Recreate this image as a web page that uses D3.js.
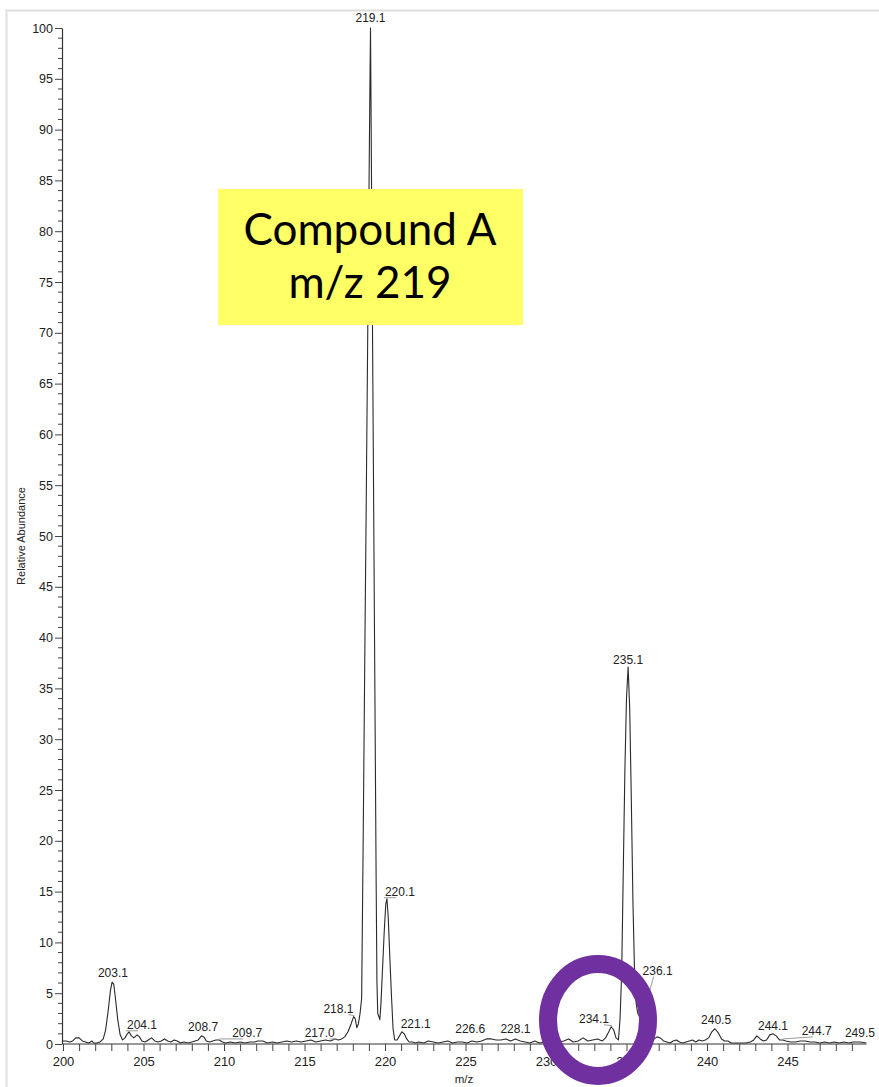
<!DOCTYPE html>
<html>
<head>
<meta charset="utf-8">
<script src="https://cdn.jsdelivr.net/npm/d3@7"></script>
<style>
  html, body { margin: 0; padding: 0; background: #ffffff; }
  svg { display: block; }
</style>
</head>
<body>
<svg id="chart" width="879" height="1087"></svg>
<script>
// ---------------- DATA ----------------
// profile spectrum: m/z values and relative abundance (%)
const mz = [
  200.0, 200.2, 200.4, 200.6, 200.8, 201.0, 201.2, 201.4, 201.6, 201.8, 201.9, 202.1, 202.3, 202.5,
  202.65, 202.8, 202.95, 203.05, 203.15, 203.25, 203.4, 203.55, 203.7, 203.85, 204.0, 204.1, 204.25,
  204.4, 204.6, 204.75, 204.9, 205.1, 205.3, 205.5, 205.7, 205.9, 206.1, 206.3, 206.5, 206.7, 206.9,
  207.1, 207.3, 207.5, 207.8, 208.0, 208.2, 208.4, 208.6, 208.75, 208.9, 209.1, 209.3, 209.5, 209.7,
  209.9, 210.1, 210.4, 210.7, 211.0, 211.3, 211.6, 211.9, 212.1, 212.4, 212.7, 213.0, 213.3, 213.6,
  213.9, 214.2, 214.5, 214.8, 215.1, 215.4, 215.7, 216.0, 216.3, 216.6, 216.9, 217.1, 217.3, 217.5,
  217.7, 217.9, 218.05, 218.15, 218.25, 218.35, 218.45, 218.55, 218.65, 218.75, 218.85, 218.95,
  219.05, 219.1, 219.15, 219.25, 219.35, 219.45, 219.5, 219.55, 219.68, 219.75, 219.85, 219.95,
  220.05, 220.12, 220.2, 220.3, 220.4, 220.5, 220.6, 220.75, 220.9, 221.05, 221.2, 221.35, 221.5,
  221.7, 221.9, 222.1, 222.4, 222.7, 223.0, 223.3, 223.6, 223.9, 224.2, 224.5, 224.8, 225.1, 225.4,
  225.7, 226.0, 226.3, 226.6, 226.9, 227.2, 227.5, 227.8, 228.1, 228.4, 228.7, 229.0, 229.3, 229.6,
  229.9, 230.2, 230.5, 230.8, 231.1, 231.4, 231.7, 232.0, 232.3, 232.6, 232.9, 233.2, 233.5, 233.7,
  233.9, 234.05, 234.2, 234.35, 234.5, 234.6, 234.7, 234.8, 234.9, 235.0, 235.1, 235.2, 235.3, 235.4,
  235.5, 235.6, 235.7, 235.85, 236.0, 236.15, 236.3, 236.5, 236.7, 236.9, 237.1, 237.3, 237.5, 237.7,
  237.9, 238.1, 238.3, 238.5, 238.7, 238.9, 239.1, 239.3, 239.5, 239.7, 239.9, 240.1, 240.3, 240.5,
  240.7, 240.9, 241.1, 241.3, 241.5, 241.8, 242.1, 242.4, 242.7, 242.9, 243.1, 243.3, 243.5, 243.7,
  243.9, 244.1, 244.3, 244.5, 244.7, 244.9, 245.2, 245.5, 245.8, 246.1, 246.4, 246.7, 247.0, 247.3,
  247.6, 247.9, 248.2, 248.5, 248.8, 249.1, 249.5, 249.9
];
const abundance = [
  0.3, 0.3, 0.2, 0.3, 0.6, 0.6, 0.3, 0.2, 0.1, 0.3, 0.1, 0.1, 0.2, 0.5,
  1.4, 3.2, 5.3, 6.1, 5.9, 4.6, 2.4, 0.9, 0.4, 0.6, 1.0, 1.2, 0.8,
  0.6, 0.9, 0.7, 0.3, 0.2, 0.4, 0.6, 0.3, 0.2, 0.3, 0.5, 0.3, 0.2, 0.4,
  0.3, 0.1, 0.2, 0.1, 0.2, 0.3, 0.4, 0.8, 0.7, 0.3, 0.2, 0.3, 0.4, 0.4,
  0.2, 0.1, 0.2, 0.1, 0.2, 0.1, 0.2, 0.2, 0.3, 0.3, 0.1, 0.2, 0.1, 0.2,
  0.3, 0.2, 0.3, 0.2, 0.3, 0.4, 0.2, 0.3, 0.4, 0.3, 0.5, 0.4, 0.5, 0.7,
  1.2, 2.0, 2.7, 2.5, 1.6, 2.0, 3.0, 4.5, 21, 39, 56, 74,
  92, 100, 88, 64, 40, 16, 6, 3.0, 2.4, 4.0, 7.5, 11,
  13.8, 14.3, 12.5, 8.5, 4.8, 1.5, 0.4, 0.4, 0.8, 1.2, 1.0, 0.5, 0.2,
  0.2, 0.1, 0.2, 0.1, 0.3, 0.2, 0.1, 0.2, 0.3, 0.1, 0.2, 0.2, 0.1, 0.3,
  0.2, 0.3, 0.5, 0.5, 0.4, 0.4, 0.5, 0.3, 0.5, 0.3, 0.2, 0.1, 0.3, 0.1,
  0.2, 0.1, 0.3, 0.2, 0.3, 0.5, 0.2, 0.3, 0.6, 0.3, 0.4, 0.5, 0.3, 0.6,
  1.2, 1.7, 1.4, 0.6, 0.4, 2.5, 7, 17, 27, 34, 37.1, 33, 24, 14,
  7, 4, 3.0, 2.6, 2.2, 1.2, 0.5, 0.3, 0.5, 0.7, 0.6, 0.3, 0.2, 0.1,
  0.3, 0.4, 0.2, 0.1, 0.2, 0.3, 0.4, 0.2, 0.4, 0.3, 0.4, 0.6, 1.2, 1.5,
  1.1, 0.5, 0.3, 0.3, 0.1, 0.1, 0.1, 0.1, 0.2, 0.4, 0.8, 0.5, 0.3, 0.4,
  0.9, 1.0, 0.8, 0.4, 0.4, 0.3, 0.2, 0.2, 0.3, 0.3, 0.2, 0.2, 0.1, 0.2,
  0.1, 0.2, 0.1, 0.2, 0.1, 0.2, 0.2, 0.1
];

// labelled peaks
const peakLabels = ["203.1", "204.1", "208.7", "209.7", "217.0", "218.1", "219.1", "220.1", "221.1",
                    "226.6", "228.1", "234.1", "235.1", "236.1", "240.5", "244.1", "244.7", "249.5"];
const peakMz = [203.1, 204.1, 208.7, 209.7, 217.0, 218.1, 219.1, 220.12, 221.1,
                226.6, 228.1, 234.1, 235.1, 236.0, 240.5, 244.1, 244.7, 249.5];
const peakAbundance = [6.1, 1.2, 0.8, 0.4, 0.4, 2.7, 100, 14.3, 1.2,
                       0.5, 0.5, 1.7, 37.1, 2.2, 1.5, 1.0, 0.4, 0.2];

// axis ticks
const xTickValues = [200, 205, 210, 215, 220, 225, 230, 235, 240, 245];
const yTickValues = [0, 5, 10, 15, 20, 25, 30, 35, 40, 45, 50, 55, 60, 65, 70, 75, 80, 85, 90, 95, 100];

// text
const xAxisTitle = "m/z";
const yAxisTitle = "Relative Abundance";
const calloutLines = ["Compound A", "m/z 219"];

// ---------------- LAYOUT ----------------
// label nudges (dx from peak x to label centre, dy from peak y to label baseline, leader line?)
const labelNudges = [
  [0, -5, false], [13, -3, true], [0, -5, false], [28, -3, true], [-17, -3, true], [-16, -4, true],
  [0, -6, false], [13, -3, true], [13, -4, false], [-21, -6, false], [0, -6, false], [-18, -4, true],
  [0, -3, false], [15, -47, true], [1, -5, false], [0, -4, false], [34, -5, true], [0, -5, false]
];

const W = 879, H = 1087;
const svg = d3.select("#chart");
const font = "'Liberation Sans', Arial, Helvetica, sans-serif";

const x = d3.scaleLinear().domain([200, 250]).range([63, 868]);
const y = d3.scaleLinear().domain([0, 100]).range([1044, 28]);

// faint frame of the screenshot
svg.append("line").attr("x1", 5).attr("x2", W).attr("y1", 10.5).attr("y2", 10.5)
  .attr("stroke", "#dedede").attr("stroke-width", 2);
svg.append("line").attr("x1", 6.5).attr("x2", 6.5).attr("y1", 10).attr("y2", H)
  .attr("stroke", "#e6e6e6").attr("stroke-width", 2.5);

// spectrum line
const pts = mz.map((m, i) => [m, abundance[i]]);
svg.append("path")
  .datum(pts)
  .attr("fill", "none")
  .attr("stroke", "#2a2a2a")
  .attr("stroke-width", 1.1)
  .attr("stroke-linejoin", "round")
  .attr("d", d3.line().x(d => x(d[0])).y(d => y(d[1])));

// x axis
const xMinor = d3.range(200, 250, 1);
const xAxis = d3.axisBottom(x)
  .tickValues(xMinor)
  .tickSize(7)
  .tickSizeOuter(0)
  .tickPadding(6)
  .tickFormat(d => xTickValues.includes(d) ? d3.format("d")(d) : "");
const gx = svg.append("g").attr("transform", `translate(0,${y(0)})`).call(xAxis);
gx.select(".domain").attr("stroke", "#333").attr("stroke-width", 1.2)
  .attr("d", `M${x(200)},0H${x(249.9)}`);
gx.selectAll(".tick line").attr("stroke", "#444").attr("stroke-width", 1);
gx.selectAll(".tick text").attr("font-family", font).attr("font-size", 13).attr("fill", "#222");

// y axis
const yAxis = d3.axisLeft(y)
  .tickValues(yTickValues)
  .tickSize(7)
  .tickSizeOuter(0)
  .tickPadding(2)
  .tickFormat(d3.format("d"));
const gy = svg.append("g").attr("transform", `translate(${x(200) - 1},0)`).call(yAxis);
gy.select(".domain").attr("stroke", "#333").attr("stroke-width", 1.2);
gy.selectAll(".tick line").attr("stroke", "#444");
gy.selectAll(".tick text").attr("font-family", font).attr("font-size", 12.5).attr("fill", "#222");
// minor y ticks
const yMinor = d3.range(0, 100, 1).filter(v => v % 5 !== 0);
gy.selectAll(".minor").data(yMinor).enter().append("line")
  .attr("class", "minor")
  .attr("x1", -4).attr("x2", 0)
  .attr("y1", d => y(d)).attr("y2", d => y(d))
  .attr("stroke", "#444");

// axis titles
svg.append("text").attr("x", 464).attr("y", 1083)
  .attr("text-anchor", "middle").attr("font-family", font).attr("font-size", 11.5).attr("fill", "#222")
  .text(xAxisTitle);
svg.append("text")
  .attr("transform", `translate(25,${(y(0) + y(100)) / 2}) rotate(-90)`)
  .attr("text-anchor", "middle").attr("font-family", font).attr("font-size", 11).attr("fill", "#222")
  .text(yAxisTitle);

// peak labels + leaders
const gl = svg.append("g");
peakLabels.forEach((lab, i) => {
  const px = x(peakMz[i]), py = y(peakAbundance[i]);
  const [dx, dy, leader] = labelNudges[i];
  const tx = px + dx, ty = py + dy;
  if (leader) {
    const left = tx - 16;
    gl.append("line")
      .attr("x1", dx >= 0 ? Math.min(px, left) : px).attr("y1", py - 1)
      .attr("x2", dx >= 0 ? left + 12 : tx + 10).attr("y2", ty + 2)
      .attr("stroke", "#9a9a9a").attr("stroke-width", 1);
  }
  gl.append("text")
    .attr("x", tx).attr("y", ty)
    .attr("text-anchor", "middle")
    .attr("font-family", font).attr("font-size", 12).attr("fill", "#222")
    .text(lab);
});

// yellow call-out box
const box = svg.append("g");
box.append("rect").attr("x", 218).attr("y", 189).attr("width", 305).attr("height", 136)
  .attr("fill", "#FFFF66");
box.selectAll("text").data(calloutLines).enter().append("text")
  .attr("x", 370)
  .attr("y", (d, i) => 245 + i * 53)
  .attr("text-anchor", "middle")
  .attr("font-family", "Lato, 'Open Sans', sans-serif")
  .attr("font-size", 44)
  .attr("fill", "#000")
  .text(d => d);

// purple circle highlight
svg.append("ellipse")
  .attr("cx", 598).attr("cy", 1020).attr("rx", 50).attr("ry", 56)
  .attr("fill", "none").attr("stroke", "#7030A0").attr("stroke-width", 18);
</script>
</body>
</html>
